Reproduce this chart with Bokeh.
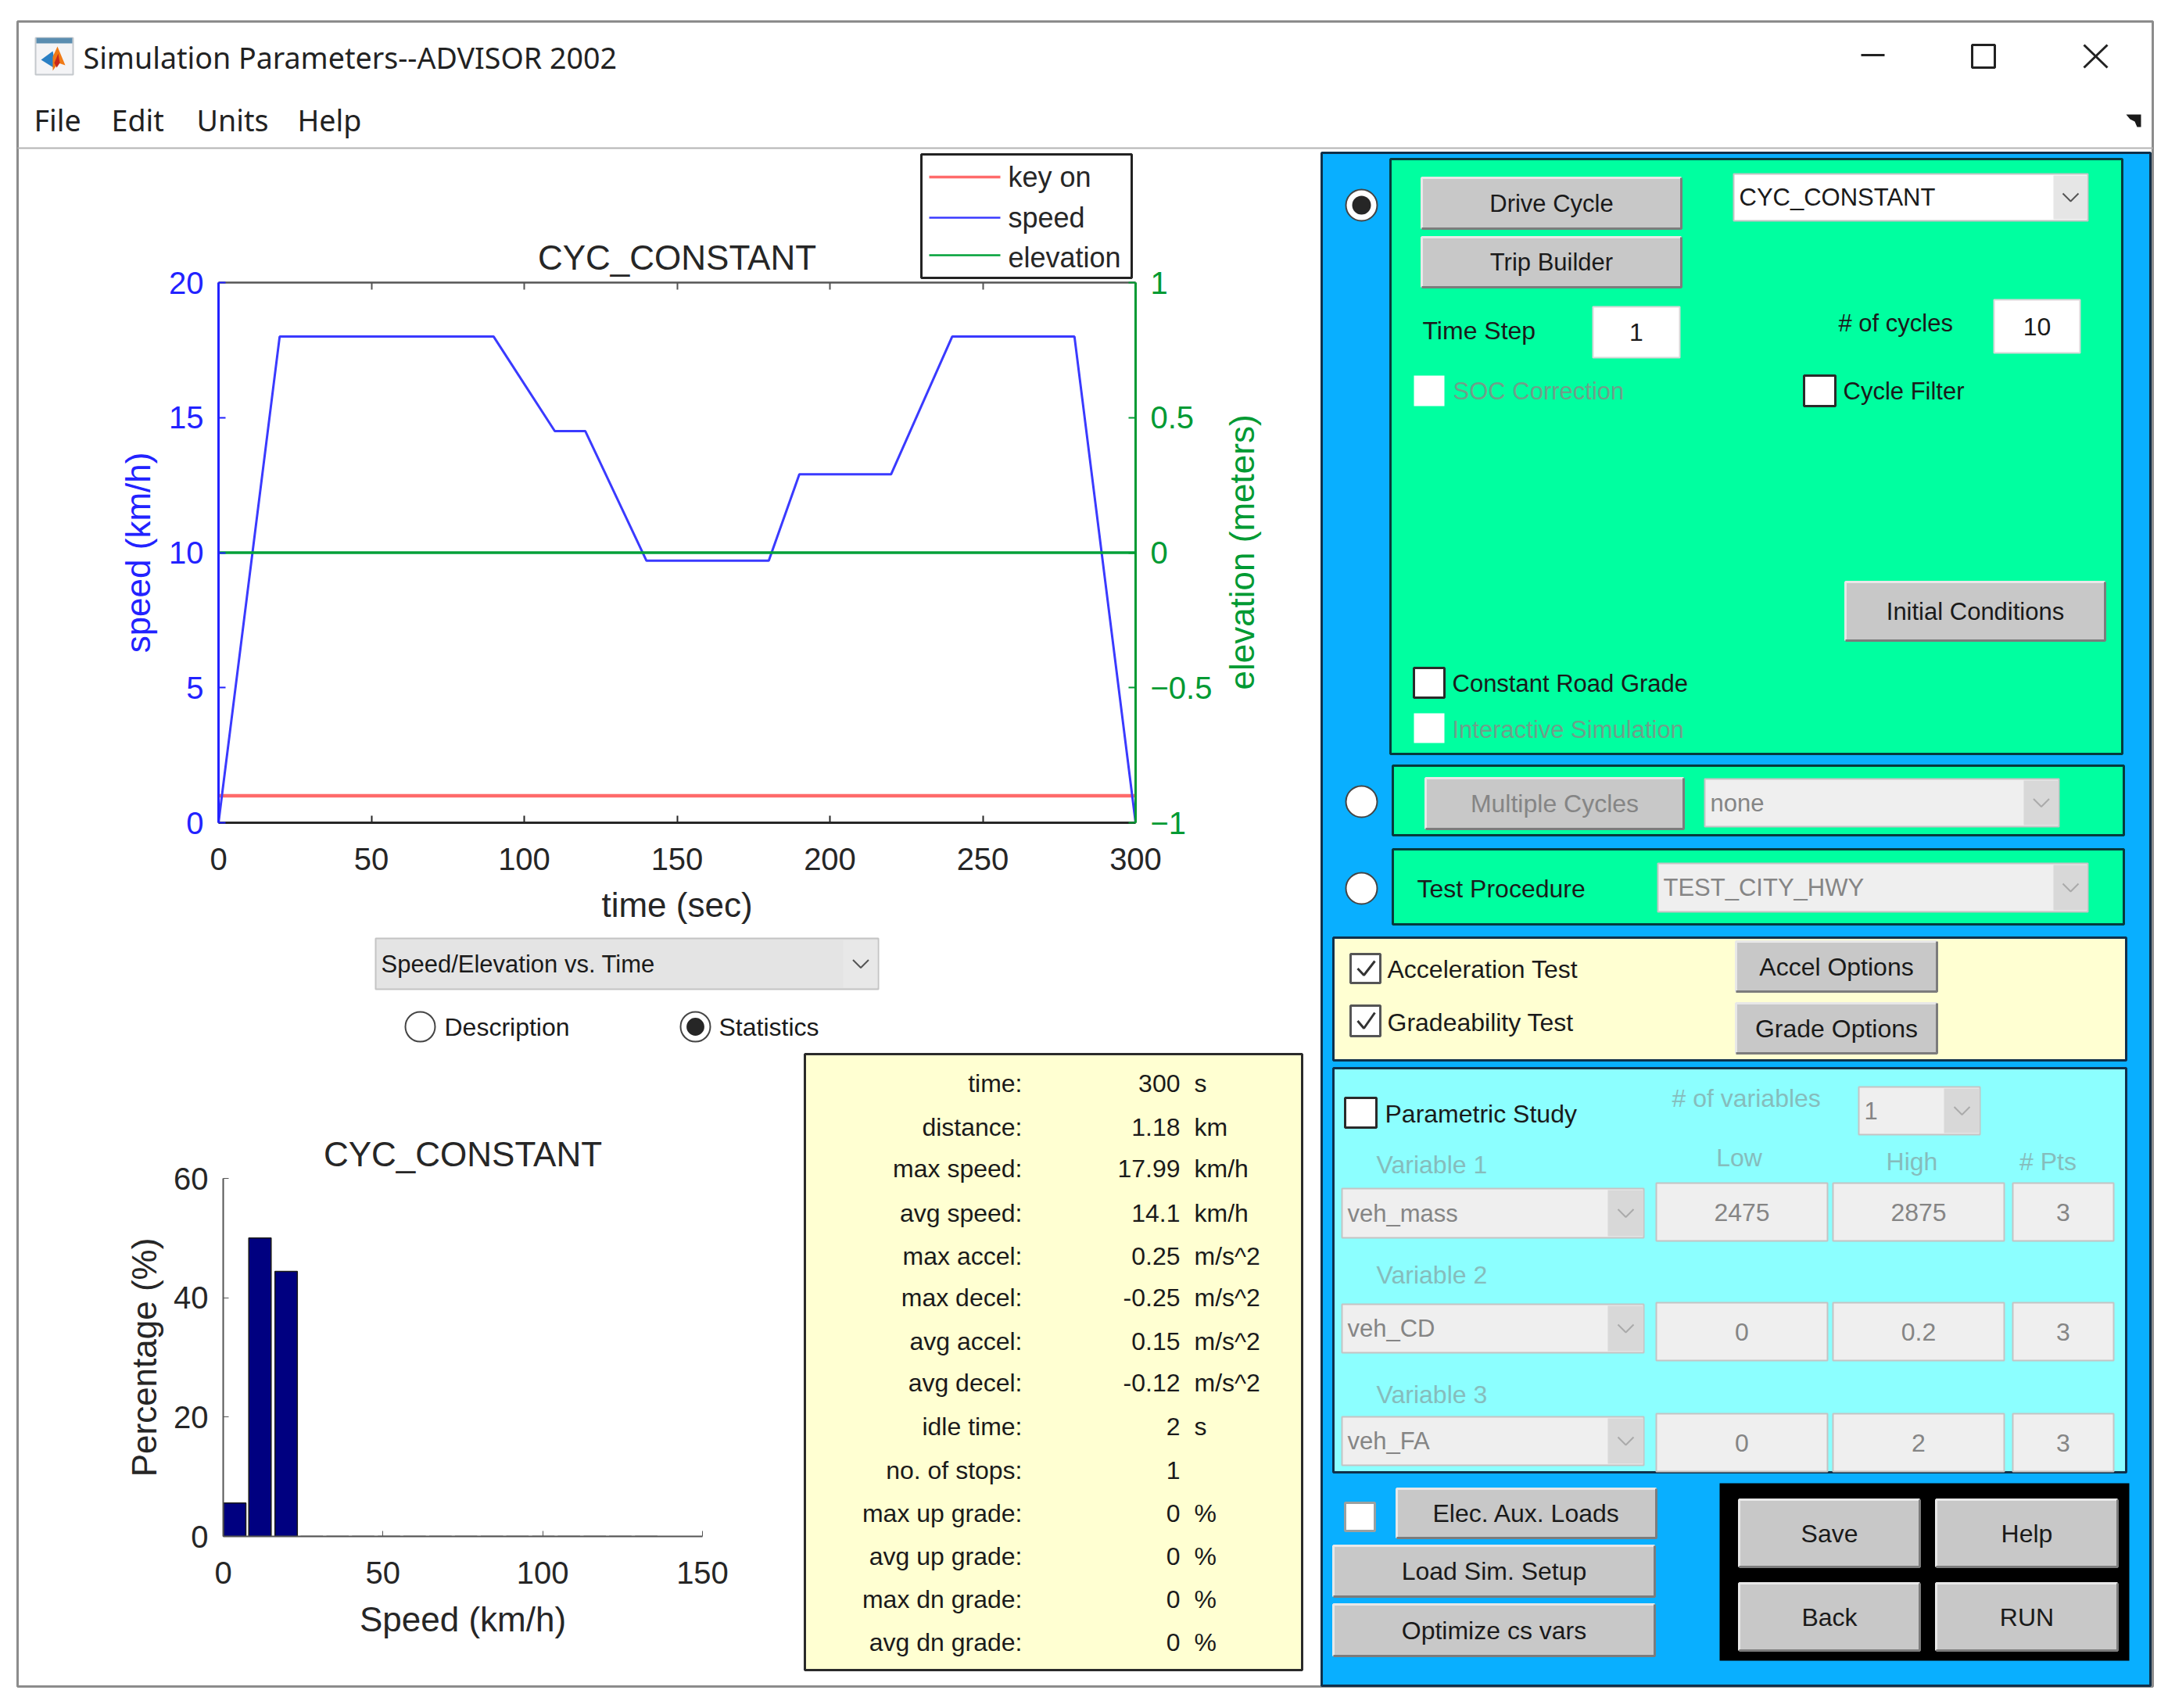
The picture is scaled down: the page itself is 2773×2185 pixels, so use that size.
import math

from bokeh.core.properties import value
from bokeh.embed import file_html
from bokeh.layouts import column
from bokeh.models import FixedTicker, LinearAxis, Range1d
from bokeh.plotting import figure
from bokeh.resources import INLINE

# speed trace
time_s = [0, 20, 90, 110, 120, 140, 180, 190, 220, 240, 280, 300]
speed_kmh = [0, 18, 18, 14.5, 14.5, 9.7, 9.7, 12.9, 12.9, 18, 18, 0]
keyon_t = [0, 300]
keyon_v = [1, 1]
elev_t = [0, 300]
elev_m = [0, 0]
time_ticks = [0, 50, 100, 150, 200, 250, 300]
speed_ticks = [0, 5, 10, 15, 20]
elev_ticks = [-1, -0.5, 0, 0.5, 1]
elev_labels = ["\u22121", "\u22120.5", "0", "0.5", "1"]

# speed histogram
hist_centers = [3.6, 11.5, 19.7, 27.7, 35.8, 43.8, 51.9, 59.9, 68, 76, 84.1, 92.1, 100.2, 108.2, 116.3, 124.3, 132.4]
hist_pct = [5.6, 50, 44.4, 0, 0, 0, 0, 0, 0, 0, 0, 0, 0, 0, 0, 0, 0]
hist_xticks = [0, 50, 100, 150]
hist_yticks = [0, 20, 40, 60]

# statistics table
stat_names = ["time:", "distance:", "max speed:", "avg speed:", "max accel:", "max decel:", "avg accel:",
              "avg decel:", "idle time:", "no. of stops:", "max up grade:", "avg up grade:", "max dn grade:",
              "avg dn grade:"]
stat_values = ["300", "1.18", "17.99", "14.1", "0.25", "-0.25", "0.15", "-0.12", "2", "1", "0", "0", "0", "0"]
stat_units = ["s", "km", "km/h", "km/h", "m/s^2", "m/s^2", "m/s^2", "m/s^2", "s", "", "%", "%", "%", "%"]
stat_rows = [1385, 1441, 1494, 1551, 1606, 1659, 1715, 1768, 1824, 1880, 1935, 1990, 2045, 2100]

UI_FONT = "Liberation Sans"
BLUE = "#2222ff"
GREEN = "#009a33"
DARK = "#262626"
BTN = "#c8c8c8"
OFF_GREEN = "#6f9f8a"
OFF_CYAN = "#86bcbc"
OFF_TEXT = "#858585"
KEY_COLOR = "#ff6a6a"
SPEED_COLOR = "#3a3aff"
ELEV_COLOR = "#00a038"

# the window itself, drawn in page pixels
ui = figure(width=2757, height=2169, x_range=Range1d(0, 2757), y_range=Range1d(2169, 0),
            x_axis_type=None, y_axis_type=None, toolbar_location=None, output_backend="svg",
            min_border=0, outline_line_color=None)
ui.grid.visible = False


def box(x0, y0, x1, y1, color, line=None, lw=2):
    ui.quad(left=[x0], right=[x1], top=[y0], bottom=[y1], fill_color=color, line_color=line, line_width=lw)


def seg(xs, ys, color, lw=2):
    ui.line(xs, ys, line_color=color, line_width=lw)


def txt(x, y, s, size=32, color="#1a1a1a", align="left", font=UI_FONT, angle=0):
    ui.text([x], [y], text=[s], text_font=value(font), text_font_size="%gpx" % size, text_color=color,
            text_align=align, text_baseline="middle", angle=angle)


def button(x0, y0, x1, y1, label, color="#1a1a1a", size=32):
    box(x0, y0, x1, y1, BTN)
    seg([x0, x0, x1], [y1, y0, y0], "#e8e8e8", 3)
    seg([x0, x1, x1], [y1, y1, y0], "#7c7c7c", 3)
    txt((x0 + x1) / 2, (y0 + y1) / 2, label, size, color, "center")


def popup(x0, y0, x1, y1, arrow_w, label, bg, arrow_bg, color="#1a1a1a", chev="#555555", size=31):
    box(x0, y0, x1, y1, bg, "#c4c4c4", 2)
    box(x1 - arrow_w, y0 + 2, x1 - 1, y1 - 2, arrow_bg)
    cx, cy = x1 - arrow_w / 2, (y0 + y1) / 2
    seg([cx - 10, cx, cx + 10], [cy - 5, cy + 5, cy - 5], chev, 2)
    txt(x0 + 7, cy, label, size, color)


def check(x0, y0, x1, y1, line="#2a2a2a", ticked=False):
    box(x0, y0, x1, y1, "white", line, 3 if line else 2)
    if ticked:
        seg([x0 + 9, x0 + 17, x1 - 7], [(y0 + y1) / 2, y1 - 10, y0 + 9], "#333333", 3)


def radio(x, y, r, on=False, line="#444444"):
    ui.circle([x], [y], radius=r, fill_color="white", line_color=line, line_width=2)
    if on:
        ui.circle([x], [y], radius=r * 0.6, fill_color="#262626", line_color=None)


def edit(x0, y0, x1, y1, label, bg="white", color="#1a1a1a", line="#d8d8d8"):
    box(x0, y0, x1, y1, bg, line, 2)
    txt((x0 + x1) / 2, (y0 + y1) / 2, label, 32, color, "center")


# window frame, title bar, menus
box(22, 27, 2753, 2157, "white", "#8c8c8c", 3)
seg([22, 2753], [189, 189], "#b4b4b4", 2)
box(45, 48, 93, 95, "#f4f4f6", "#c4c8cc", 2)
box(46, 48, 92, 55, "#5a8db0")
ui.patch([52, 67, 70, 68], [76, 65, 80, 86], fill_color="#2a7fc4", line_color=None)
ui.patch([67, 73, 83, 74, 67], [72, 59, 83, 80, 90], fill_color="#f07a16", line_color=None)
ui.patch([69, 74, 76, 72], [80, 68, 80, 86], fill_color="#c8281c", line_color=None)
txt(106, 73, "Simulation Parameters--ADVISOR 2002", 37.6, "#222222", font="Noto Sans")
txt(43, 153, "File", 37.6, "#222222", font="Noto Sans")
txt(142, 153, "Edit", 37.6, "#222222", font="Noto Sans")
txt(251, 153, "Units", 37.6, "#222222", font="Noto Sans")
txt(380, 153, "Help", 37.6, "#222222", font="Noto Sans")
seg([2380, 2410], [70, 70], "#222222", 3)
box(2522, 57, 2551, 86, None, "#222222", 3)
seg([2665, 2695], [57, 86], "#222222", 3)
seg([2665, 2695], [86, 57], "#222222", 3)
ui.patch([2719, 2738, 2738, 2733, 2730, 2724], [146, 146, 162, 162, 155, 152], fill_color="#1a1a1a", line_color=None)

# legend and right-hand label of the speed plot
box(1178, 197, 1447, 355, "white", "#222222", 3)
seg([1188, 1279], [226, 226], KEY_COLOR, 3.5)
txt(1289, 226, "key on", 36, DARK)
seg([1188, 1279], [278, 278], SPEED_COLOR, 2.5)
txt(1289, 278, "speed", 36, DARK)
seg([1188, 1279], [326, 326], ELEV_COLOR, 2.5)
txt(1289, 329, "elevation", 36, DARK)
txt(1588, 706, "elevation (meters)", 44, GREEN, "center", angle=math.pi / 2)

# dropdown and radios under the speed plot
popup(480, 1200, 1123, 1265, 45, "Speed/Elevation vs. Time", "#e4e4e4", "#e8e8e8")
radio(537, 1313, 19)
txt(568, 1313, "Description", 32)
radio(889, 1313, 19, on=True)
txt(919, 1313, "Statistics", 32)

# statistics panel
box(1029, 1348, 1665, 2136, "#ffffd2", "#2a2a2a", 3)
for name, val, unit, row in zip(stat_names, stat_values, stat_units, stat_rows):
    txt(1307, row, name, 32, align="right")
    txt(1509, row, val, 32, align="right")
    if unit:
        txt(1527, row, unit, 32)

# control panel
box(1690, 195, 2750, 2156, "#09afff", "#10304a", 3)
box(1778, 203, 2714, 964, "#00ffa0", "#063a3c", 3)
radio(1741, 262, 20, on=True)
button(1818, 227, 2150, 292, "Drive Cycle", size=31)
button(1818, 303, 2150, 367, "Trip Builder", size=31)
popup(2217, 222, 2670, 282, 44, "CYC_CONSTANT", "white", "#e6e6e6")
txt(1819, 422, "Time Step")
edit(2037, 392, 2148, 457, "1")
txt(2351, 413, "# of cycles", 31)
edit(2550, 383, 2660, 451, "10")
check(1808, 480, 1847, 519, None)
txt(1858, 500, "SOC Correction", 31, OFF_GREEN)
check(2307, 480, 2347, 519)
txt(2357, 500, "Cycle Filter", 31)
button(2360, 744, 2692, 819, "Initial Conditions", size=31)
check(1808, 854, 1847, 892)
txt(1857, 874, "Constant Road Grade", 31)
check(1808, 912, 1847, 950, None)
txt(1857, 933, "Interactive Simulation", 31, OFF_GREEN)

box(1781, 979, 2716, 1068, "#00ffa0", "#063a3c", 3)
radio(1741, 1025, 20)
button(1823, 995, 2153, 1060, "Multiple Cycles", OFF_TEXT)
popup(2180, 996, 2633, 1057, 45, "none", "#efefef", "#d8d8d8", OFF_TEXT, "#aaaaaa")

box(1781, 1086, 2716, 1182, "#00ffa0", "#063a3c", 3)
radio(1741, 1136, 20)
txt(1812, 1136, "Test Procedure")
popup(2120, 1104, 2670, 1166, 44, "TEST_CITY_HWY", "#efefef", "#d8d8d8", OFF_TEXT, "#aaaaaa")

box(1705, 1199, 2719, 1356, "#ffffd2", "#10304a", 3)
check(1727, 1220, 1765, 1257, "#555555", True)
txt(1774, 1239, "Acceleration Test")
check(1727, 1286, 1765, 1325, "#555555", True)
txt(1774, 1307, "Gradeability Test")
button(2220, 1204, 2477, 1268, "Accel Options")
button(2220, 1283, 2477, 1347, "Grade Options")

box(1705, 1366, 2719, 1883, "#8cffff", "#10304a", 3)
check(1720, 1404, 1760, 1442)
txt(1771, 1424, "Parametric Study")
txt(2138, 1404, "# of variables", color=OFF_CYAN)
popup(2377, 1390, 2532, 1451, 46, "1", "#efefef", "#d8d8d8", OFF_TEXT, "#aaaaaa")
txt(2224, 1480, "Low", color=OFF_CYAN, align="center")
txt(2445, 1485, "High", color=OFF_CYAN, align="center")
txt(2619, 1485, "# Pts", color=OFF_CYAN, align="center")
for var, name, var_y, pop_y, box_y, vals in [("Variable 1", "veh_mass", 1489, (1520, 1583), (1513, 1587), ["2475", "2875", "3"]),
                                             ("Variable 2", "veh_CD", 1630, (1668, 1730), (1666, 1740), ["0", "0.2", "3"]),
                                             ("Variable 3", "veh_FA", 1783, (1812, 1874), (1808, 1882), ["0", "2", "3"])]:
    txt(1760, var_y, var, color=OFF_CYAN)
    popup(1716, pop_y[0], 2102, pop_y[1], 46, name, "#efefef", "#d8d8d8", OFF_TEXT, "#aaaaaa")
    for x0, x1, v in zip([2118, 2344, 2574], [2337, 2563, 2703], vals):
        edit(x0, box_y[0], x1, box_y[1], v, "#efefef", OFF_TEXT, "#c4c4c4")

check(1720, 1922, 1758, 1958, "#9aa0a0")
button(1786, 1904, 2118, 1967, "Elec. Aux. Loads")
button(1705, 1977, 2116, 2042, "Load Sim. Setup")
button(1705, 2052, 2116, 2118, "Optimize cs vars")
box(2199, 1897, 2723, 2124, "black")
button(2224, 1918, 2455, 2004, "Save")
button(2476, 1918, 2708, 2004, "Help")
button(2224, 2025, 2455, 2111, "Back")
button(2476, 2025, 2708, 2111, "RUN")

# speed / elevation plot
FX, FY = 130, 192
p = figure(width=1530, height=1003, x_range=Range1d(0, 300), y_range=Range1d(0, 20),
           toolbar_location=None, output_backend="svg", x_axis_location=None, y_axis_location=None,
           min_border_left=279 - FX, min_border_right=FX + 1530 - 1452, min_border_top=361 - FY,
           min_border_bottom=FY + 1003 - 1052, border_fill_color=None, outline_line_color=None,
           title="CYC_CONSTANT", title_location="above")
p.grid.visible = False
p.title.text_font = "Liberation Sans"
p.title.text_font_size = "44px"
p.title.text_font_style = "normal"
p.title.text_color = DARK
p.title.align = "center"
p.title.standoff = 15
p.extra_y_ranges = {"elev": Range1d(-1, 1)}

bottom = LinearAxis(ticker=FixedTicker(ticks=time_ticks), axis_label="time (sec)")
top = LinearAxis(ticker=FixedTicker(ticks=time_ticks), major_label_overrides={t: "" for t in time_ticks})
left = LinearAxis(ticker=FixedTicker(ticks=speed_ticks), axis_label="speed (km/h)")
right = LinearAxis(ticker=FixedTicker(ticks=elev_ticks), y_range_name="elev",
                   major_label_overrides=dict(zip(elev_ticks, elev_labels)))
for ax, color, lw in [(bottom, DARK, 3), (top, "#555555", 2.5), (left, BLUE, 3), (right, GREEN, 3)]:
    ax.axis_line_color = color
    ax.axis_line_width = lw
    ax.major_tick_line_color = color
    ax.major_tick_line_width = 2
    ax.major_tick_in = 9
    ax.major_tick_out = 0
    ax.minor_tick_line_color = None
    ax.major_label_text_font = "Liberation Sans"
    ax.major_label_text_font_size = "40px"
    ax.major_label_text_color = color
    ax.axis_label_text_font = "Liberation Sans"
    ax.axis_label_text_font_size = "44px"
    ax.axis_label_text_font_style = "normal"
    ax.axis_label_text_color = color
    ax.major_label_standoff = 19
    ax.axis_label_standoff = 12
top.major_label_standoff = 0
bottom.major_label_standoff = 32
bottom.axis_label_standoff = 17
p.add_layout(bottom, "below")
p.add_layout(top, "above")
p.add_layout(left, "left")
p.add_layout(right, "right")

p.line(keyon_t, keyon_v, line_color=KEY_COLOR, line_width=4.5)
p.line(time_s, speed_kmh, line_color=SPEED_COLOR, line_width=3)
p.line(elev_t, elev_m, line_color=ELEV_COLOR, line_width=3.5, y_range_name="elev")

# speed histogram
HX, HY = 130, 1440
h = figure(width=860, height=700, x_range=Range1d(0, 150), y_range=Range1d(0, 60),
           toolbar_location=None, output_backend="svg",
           min_border_left=285 - HX, min_border_right=HX + 860 - 898, min_border_top=1507 - HY,
           min_border_bottom=HY + 700 - 1965, border_fill_color=None, outline_line_color=None,
           title="CYC_CONSTANT", x_axis_label="Speed (km/h)", y_axis_label="Percentage (%)")
h.grid.visible = False
h.title.text_font = "Liberation Sans"
h.title.text_font_size = "44px"
h.title.text_font_style = "normal"
h.title.text_color = DARK
h.title.align = "center"
h.title.standoff = 13
h.xaxis.ticker = FixedTicker(ticks=hist_xticks)
h.yaxis.ticker = FixedTicker(ticks=hist_yticks)
for ax in [h.xaxis[0], h.yaxis[0]]:
    ax.axis_line_color = "#555555"
    ax.axis_line_width = 2
    ax.major_tick_line_color = "#555555"
    ax.major_tick_in = 7
    ax.major_tick_out = 0
    ax.minor_tick_line_color = None
    ax.major_label_text_font = "Liberation Sans"
    ax.major_label_text_font_size = "40px"
    ax.major_label_text_color = DARK
    ax.axis_label_text_font = "Liberation Sans"
    ax.axis_label_text_font_size = "44px"
    ax.axis_label_text_font_style = "normal"
    ax.axis_label_text_color = DARK
    ax.major_label_standoff = 19
    ax.axis_label_standoff = 14
h.xaxis.major_label_standoff = 32
h.xaxis.axis_label_standoff = 18
h.yaxis.axis_label_standoff = 10
h.vbar(x=hist_centers, top=hist_pct, width=7.0, bottom=0, fill_color="#000080", line_color="#1a1a1a", line_width=1.5)

# each plot in its own box, so the outer column does not line their frames up with the window
p_box = column(p, width=1530, height=1003, styles={"position": "absolute", "left": "%dpx" % FX, "top": "%dpx" % FY})
h_box = column(h, width=860, height=700, styles={"position": "absolute", "left": "%dpx" % HX, "top": "%dpx" % HY})
page = column(ui, p_box, h_box, width=2757, height=2169, spacing=0, styles={"position": "relative"})
open("out.html", "w").write(file_html(page, INLINE))
